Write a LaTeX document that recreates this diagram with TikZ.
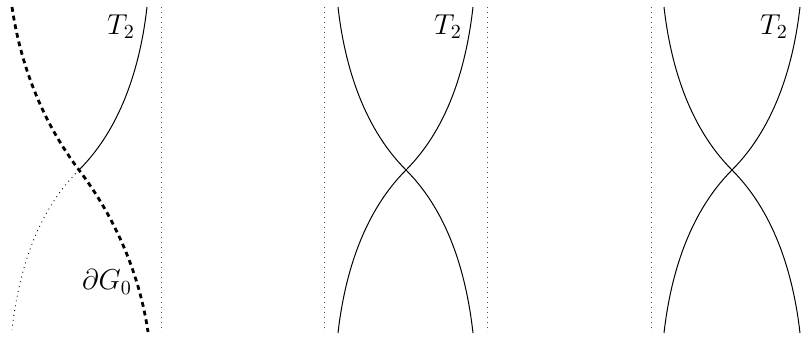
\documentclass[tikz,border=0pt]{standalone}
\begin{document}
\begin{tikzpicture}[x=0.5pt,y=-0.5pt,
  curve/.style={line width=0.5pt},
  guide/.style={line width=0.5pt,dotted,black!70},
  hidden/.style={line width=0.45pt,dotted},
  boundary/.style={line width=1.4pt,dash pattern=on 2.4pt off 2pt},
  lab/.style={font=\Large,inner sep=0pt}]
\useasboundingbox (0,0) rectangle (809,337);
% panel 1
\coordinate (c1) at (79,170);
\coordinate (tl1) at (12,7);
\coordinate (tr1) at (147,7);
\coordinate (bl1) at (12,330);
\coordinate (br1) at (148,332);
\coordinate (g1t) at (161,7);
\coordinate (g1b) at (161,332);
\draw[guide] (g1t) -- (g1b);
\draw[curve] (c1) .. controls +(45,-45) and +(-6,53) .. (tr1);
\draw[hidden] (c1) .. controls +(-45,45) and +(6,-53) .. (bl1);
\draw[boundary] (tl1) .. controls +(8,55) and +(-38,-50) .. (c1)
  .. controls +(38,50) and +(-8,-55) .. (br1);
\node[lab] (T1) at (121,27) {$T_2$};
\node[lab] (G1) at (107,282) {$\partial G_0$};
% panel 2
\coordinate (c2) at (406,170);
\coordinate (tl2) at (338,7);
\coordinate (tr2) at (473,7);
\coordinate (bl2) at (338,333);
\coordinate (br2) at (473,333);
\coordinate (g2t) at (324,7);
\coordinate (g2b) at (324,332);
\coordinate (g3t) at (487,7);
\coordinate (g3b) at (487,332);
\draw[guide] (g2t) -- (g2b);
\draw[guide] (g3t) -- (g3b);
\draw[curve] (tl2) .. controls +(6,53) and +(-45,-45) .. (c2)
  .. controls +(45,45) and +(-6,-53) .. (br2);
\draw[curve] (bl2) .. controls +(6,-53) and +(-45,45) .. (c2)
  .. controls +(45,-45) and +(-6,53) .. (tr2);
\node[lab] (T2) at (448,27) {$T_2$};
% panel 3
\coordinate (c3) at (732,170);
\coordinate (tl3) at (664,7);
\coordinate (tr3) at (800,7);
\coordinate (bl3) at (664,333);
\coordinate (br3) at (800,333);
\coordinate (g4t) at (651,7);
\coordinate (g4b) at (651,332);
\draw[guide] (g4t) -- (g4b);
\draw[curve] (tl3) .. controls +(6,53) and +(-45,-45) .. (c3)
  .. controls +(45,45) and +(-6,-53) .. (br3);
\draw[curve] (bl3) .. controls +(6,-53) and +(-45,45) .. (c3)
  .. controls +(45,-45) and +(-6,53) .. (tr3);
\node[lab] (T3) at (774,27) {$T_2$};
\end{tikzpicture}
\end{document}
